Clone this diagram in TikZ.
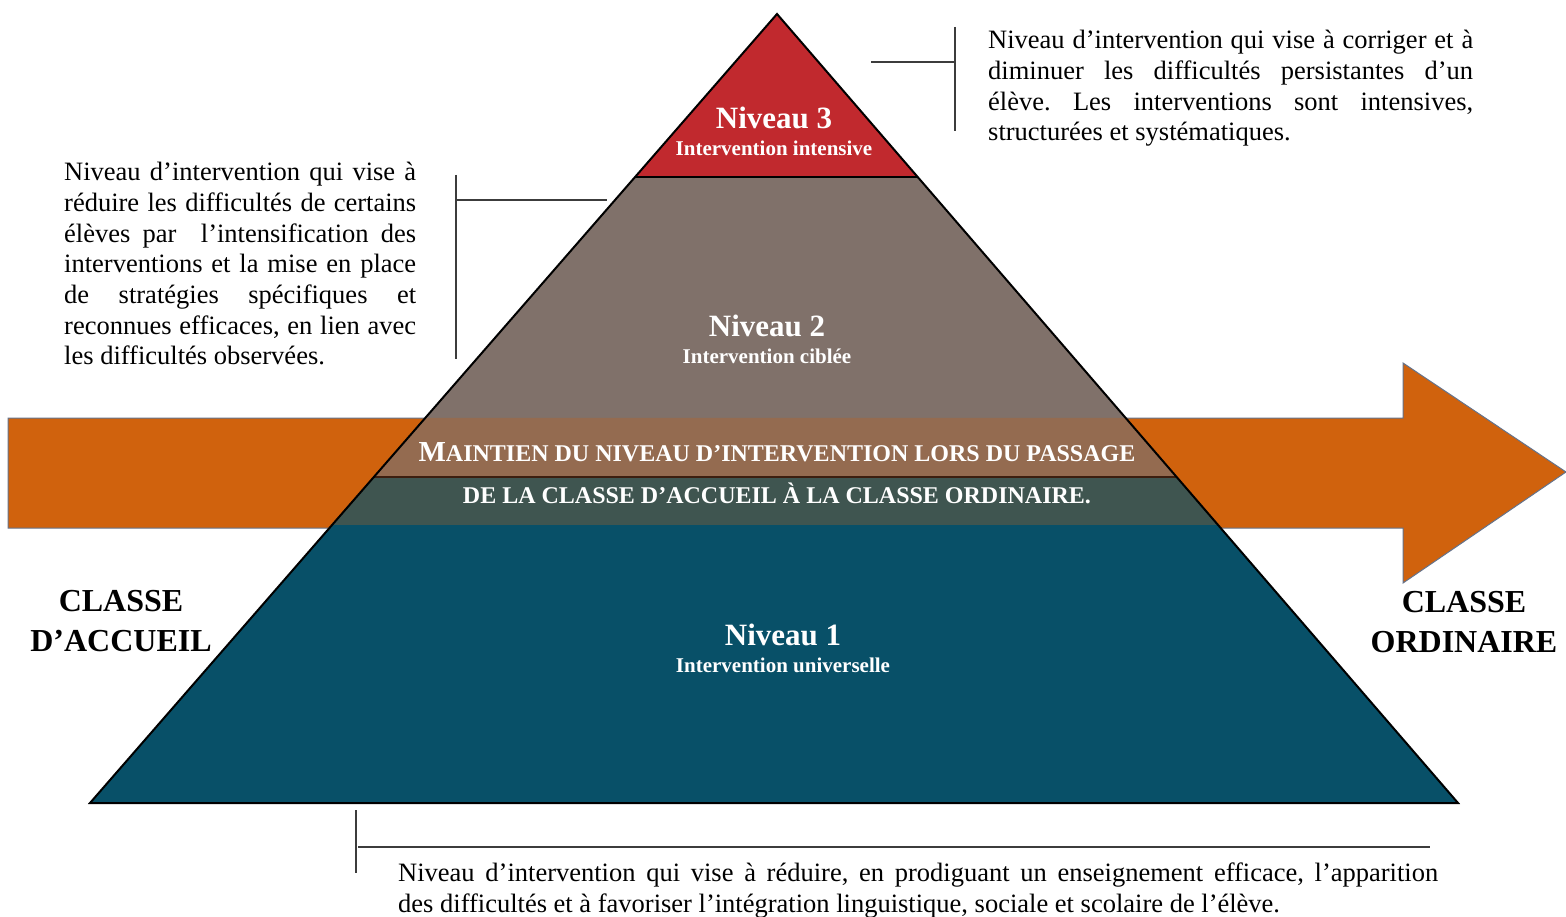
\documentclass[tikz,border=0pt]{standalone}
\usepackage{fontspec}
\setmainfont{Liberation Serif}
\usetikzlibrary{calc}
\definecolor{lvthree}{RGB}{193,41,46}
\definecolor{lvtwo}{RGB}{128,113,106}
\definecolor{bandtop}{RGB}{148,107,80}
\definecolor{bandbot}{RGB}{63,85,80}
\definecolor{lvone}{RGB}{8,80,104}
\definecolor{arroworange}{RGB}{208,98,13}
\definecolor{arrowedge}{RGB}{100,115,140}
\definecolor{sepbrown}{RGB}{60,30,15}
\definecolor{calloutgray}{RGB}{60,60,60}
\newcommand\BigSC[1]{{\fontsize{29}{42}\selectfont #1}}
\frenchspacing
\begin{document}
\begin{tikzpicture}[x=1pt,y=-1pt,
  bodytext/.style={anchor=north west,inner sep=0pt,align=justify,text=black,
    font=\fontsize{26.5}{30.7}\selectfont\frenchspacing},
  levellabel/.style={align=center,text=white,inner sep=0pt,
    font=\fontsize{21}{27}\selectfont\bfseries},
  classlabel/.style={align=center,text=black,inner sep=0pt,
    font=\fontsize{32}{40}\selectfont\bfseries},
  callout/.style={draw=calloutgray,line width=1.3pt}]
\useasboundingbox (0,0) rectangle (1566,917);
\fill[white] (0,0) rectangle (1566,917);
% arrow
\draw[fill=arroworange,draw=arrowedge,line width=1pt]
  (8,418) -- (1403,418) -- (1403,363) -- (1566,472) -- (1403,583) -- (1403,528) -- (8,528) -- cycle;
% pyramid
\coordinate (A) at (777,14);
\coordinate (L) at (90,803);
\coordinate (R) at (1458,803);
\coordinate (l1) at ($(A)!0.2066!(L)$);
\coordinate (r1) at ($(A)!0.2066!(R)$);
\coordinate (l2) at ($(A)!0.5120!(L)$);
\coordinate (r2) at ($(A)!0.5120!(R)$);
\coordinate (l3) at ($(A)!0.5868!(L)$);
\coordinate (r3) at ($(A)!0.5868!(R)$);
\coordinate (l4) at ($(A)!0.6477!(L)$);
\coordinate (r4) at ($(A)!0.6477!(R)$);
\fill[lvthree] (A) -- (l1) -- (r1) -- cycle;
\fill[lvtwo] (l1) -- (l2) -- (r2) -- (r1) -- cycle;
\fill[bandtop] (l2) -- (l3) -- (r3) -- (r2) -- cycle;
\fill[bandbot] (l3) -- (l4) -- (r4) -- (r3) -- cycle;
\fill[lvone] (l4) -- (L) -- (R) -- (r4) -- cycle;
\draw[black,line width=1.8pt] (l1) -- (r1);
\draw[sepbrown,line width=2pt] (l3) -- (r3);
\draw[black,line width=2pt,line join=miter] (A) -- (L) -- (R) -- cycle;
% level labels
\node[levellabel] (n3) at (774,131) {{\fontsize{31}{31}\selectfont Niveau 3}\\Intervention intensive};
\node[levellabel] (n2) at (767,339) {{\fontsize{31}{31}\selectfont Niveau 2}\\Intervention ciblée};
\node[levellabel] (n1) at (783,648) {{\fontsize{31}{31}\selectfont Niveau 1}\\Intervention universelle};
\node[align=center,text=white,inner sep=0pt,font=\fontsize{24}{42}\selectfont\bfseries] (band) at (777,473)
  {\BigSC{M}AINTIEN DU NIVEAU D’INTERVENTION LORS DU PASSAGE\\DE LA CLASSE D’ACCUEIL À LA CLASSE ORDINAIRE.};
% class labels
\node[classlabel] (accueil) at (121,621) {CLASSE\\D’ACCUEIL};
\node[classlabel] (ordinaire) at (1464,622) {CLASSE\\ORDINAIRE};
% descriptions
\node[bodytext,text width=485pt] (d3) at (988,30)
  {Niveau d’intervention qui vise à corriger et à\linebreak diminuer les difficultés persistantes d’un\linebreak élève. Les interventions sont intensives,\linebreak structurées et systématiques.};
\node[bodytext,text width=352pt] (d2) at (64,162)
  {Niveau d’intervention qui vise à\linebreak réduire les difficultés de certains\linebreak élèves par \ l’intensification des\linebreak interventions et la mise en place\linebreak de stratégies spécifiques et\linebreak reconnues efficaces, en lien avec\linebreak les difficultés observées.};
\node[bodytext,text width=1040pt] (d1) at (398,863)
  {Niveau d’intervention qui vise à réduire, en prodiguant un enseignement efficace, l’apparition\linebreak des difficultés et à favoriser l’intégration linguistique, sociale et scolaire de l’élève.};
% callout brackets
\coordinate (c3a) at (955,27);
\coordinate (c3b) at (955,131);
\coordinate (c3m) at (955,62);
\coordinate (c3e) at (871,62);
\draw[callout] (c3a) -- (c3b);
\draw[callout] (c3e) -- (c3m);
\coordinate (c2a) at (456,175);
\coordinate (c2b) at (456,359);
\coordinate (c2m) at (456,200);
\coordinate (c2e) at (607,200);
\draw[callout] (c2a) -- (c2b);
\draw[callout] (c2m) -- (c2e);
\coordinate (c1a) at (356,810);
\coordinate (c1b) at (356,873);
\coordinate (c1m) at (358,847);
\coordinate (c1e) at (1430,847);
\draw[callout] (c1a) -- (c1b);
\draw[callout] (c1m) -- (c1e);
\end{tikzpicture}
\end{document}
